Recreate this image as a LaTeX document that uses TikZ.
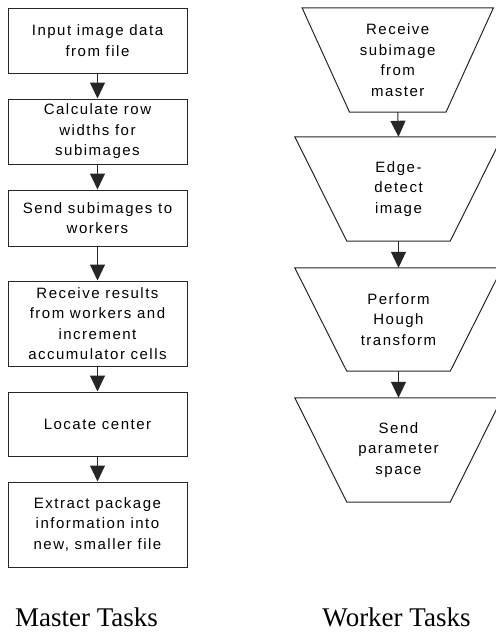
\documentclass[tikz,border=0pt]{standalone}
\usepackage{fontspec}
\setmainfont{Liberation Serif}
\newfontfamily\boxfont[LetterSpace=10]{Liberation Sans}
\usetikzlibrary{arrows.meta}
\tikzset{
  stepbox/.style={draw=black!85, line width=1pt, minimum width=179pt, inner sep=0pt,
    align=center, font=\boxfont\fontsize{15}{20.5}\selectfont},
  trapbox/.style={inner sep=0pt, align=center, font=\boxfont\fontsize{15}{20.5}\selectfont},
  trapline/.style={draw=black!85, line width=1pt},
  flow/.style={draw=black!85, line width=1pt, -{Triangle[length=16pt,width=15pt]}},
  title/.style={font=\fontsize{27}{30}\selectfont, anchor=base, inner sep=0pt}
}
\begin{document}
\begin{tikzpicture}[x=1pt,y=1pt]
\useasboundingbox (0,0) rectangle (496,-633);
% master column
\node[stepbox, minimum height=65pt] (m1) at (97.5,-40.5) {Input image data\\from file};
\node[stepbox, minimum height=65pt] (m2) at (97.5,-131.5) {Calculate row\\widths for\\subimages};
\node[stepbox, minimum height=56pt] (m3) at (97.5,-218) {Send subimages to\\workers};
\node[stepbox, minimum height=85pt] (m4) at (97.5,-323.5) {Receive results\\from workers and\\increment\\accumulator cells};
\node[stepbox, minimum height=64pt] (m5) at (97.5,-424) {Locate center};
\node[stepbox, minimum height=85pt] (m6) at (97.5,-524.5) {Extract package\\information into\\new, smaller file};
\foreach \a/\b in {m1/m2,m2/m3,m3/m4,m4/m5,m5/m6}
  \draw[flow] (\a.south) -- (\b.north);
% worker column
\node[trapbox, minimum width=96pt, minimum height=104pt] (w1) at (397.75,-60) {Receive\\subimage\\from\\master};
\node[trapbox, minimum width=103pt, minimum height=104pt] (w2) at (398.5,-189) {Edge-\\detect\\image};
\node[trapbox, minimum width=103pt, minimum height=103pt] (w3) at (398.5,-319.5) {Perform\\Hough\\transform};
\node[trapbox, minimum width=103pt, minimum height=104pt] (w4) at (398.5,-450) {Send\\parameter\\space};
\draw[trapline] (w1.south west) -- (w1.south east) -- ([xshift=47.5pt]w1.north east) -- ([xshift=-47.5pt]w1.north west) -- cycle;
\foreach \w in {w2,w3,w4}
  \draw[trapline] (\w.south west) -- (\w.south east) -- ([xshift=52pt]\w.north east) -- ([xshift=-52pt]\w.north west) -- cycle;
\foreach \a/\b in {w1/w2,w2/w3,w3/w4}
  \draw[flow] (\a.south) -- (\b.north);
% titles
\node[title] (tm) at (86.5,-626) {Master Tasks};
\node[title] (tw) at (396.5,-626) {Worker Tasks};
\end{tikzpicture}
\end{document}
